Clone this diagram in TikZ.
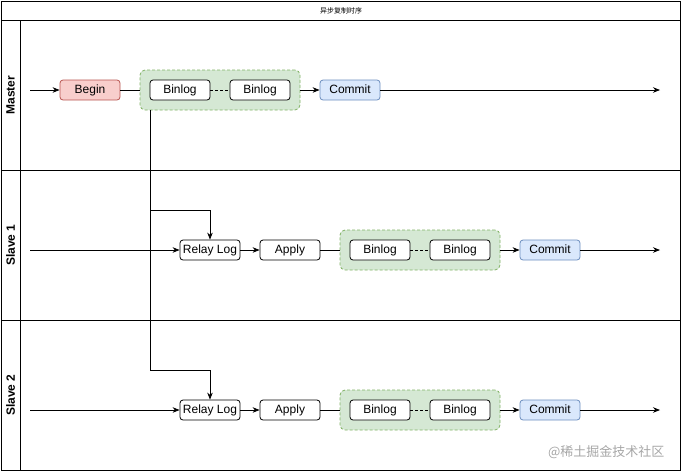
\documentclass[tikz,border=0pt]{standalone}
\usepackage{fontspec}
\setmainfont{Liberation Sans}
\newfontfamily\cjk{Noto Sans CJK SC}
\usetikzlibrary{arrows.meta}
\definecolor{redfill}{HTML}{F8CECC}
\definecolor{redline}{HTML}{B85450}
\definecolor{bluefill}{HTML}{DAE8FC}
\definecolor{blueline}{HTML}{6C8EBF}
\definecolor{greenfill}{HTML}{D5E8D4}
\definecolor{greenline}{HTML}{82B366}
\tikzset{
  box/.style={draw=black, fill=white, rounded corners=3pt, minimum width=60pt, minimum height=20pt, inner sep=0pt, text height=9pt, text depth=1.6pt, font=\fontsize{12}{12}\selectfont, line width=0.8pt},
  beginbox/.style={box, draw=redline, fill=redfill},
  commitbox/.style={box, draw=blueline, fill=bluefill},
  grp/.style={draw=greenline, fill=greenfill, dash pattern=on 3pt off 2pt, rounded corners=5pt, minimum width=160pt, minimum height=40pt, inner sep=0pt, line width=0.8pt},
  conn/.style={line width=0.8pt},
  dashconn/.style={conn, dash pattern=on 3pt off 2pt},
  arr/.style={conn, -{Stealth[length=7pt,width=5.5pt]}},
  lane/.style={font=\bfseries\fontsize{12}{12}\selectfont, rotate=90},
}
\begin{document}
\begin{tikzpicture}[x=1pt,y=-1pt]
\useasboundingbox (0,0) rectangle (682,472);
% frame
\draw[line width=1pt] (1,1) rectangle (680,470);
\draw[line width=1pt] (1,20) -- (680,20);
\draw[line width=1pt] (20,20) -- (20,470);
\draw[line width=1pt] (1,170) -- (680,170);
\draw[line width=1pt] (1,320) -- (680,320);
\node[font=\cjk\fontsize{7}{7}\selectfont] (title) at (341,10.5) {异步复制时序};
\node[lane] (lm) at (10.5,95) {Master};
\node[lane] (ls1) at (10.5,245) {Slave 1};
\node[lane] (ls2) at (10.5,395) {Slave 2};

% Master
\coordinate (mstart) at (30,90);
\coordinate (mend) at (660,90);
\node[beginbox] (mbegin) at (90,90) {Begin};
\node[grp] (mgrp) at (220,90) {};
\node[box] (mb1) at (180,90) {Binlog};
\node[box] (mb2) at (260,90) {Binlog};
\node[commitbox] (mcommit) at (350,90) {Commit};
\draw[arr] (mstart) -- (mbegin);
\draw[conn] (mbegin) -- (mgrp);
\draw[dashconn] (mb1) -- (mb2);
\draw[arr] (mgrp) -- (mcommit);
\draw[arr] (mcommit) -- (mend);

% Slave 1
\coordinate (astart) at (30,250);
\coordinate (aend) at (660,250);
\node[box] (arelay) at (210,250) {Relay Log};
\node[box] (aapply) at (290,250) {Apply};
\node[grp] (agrp) at (420,250) {};
\node[box] (ab1) at (380,250) {Binlog};
\node[box] (ab2) at (460,250) {Binlog};
\node[commitbox] (acommit) at (550,250) {Commit};
\draw[arr] (astart) -- (arelay);
\draw[arr] (arelay) -- (aapply);
\draw[conn] (aapply) -- (agrp);
\draw[dashconn] (ab1) -- (ab2);
\draw[arr] (agrp) -- (acommit);
\draw[arr] (acommit) -- (aend);

% Slave 2
\coordinate (bstart) at (30,410);
\coordinate (bend) at (660,410);
\node[box] (brelay) at (210,410) {Relay Log};
\node[box] (bapply) at (290,410) {Apply};
\node[grp] (bgrp) at (420,410) {};
\node[box] (bb1) at (380,410) {Binlog};
\node[box] (bb2) at (460,410) {Binlog};
\node[commitbox] (bcommit) at (550,410) {Commit};
\draw[arr] (bstart) -- (brelay);
\draw[arr] (brelay) -- (bapply);
\draw[conn] (bapply) -- (bgrp);
\draw[dashconn] (bb1) -- (bb2);
\draw[arr] (bgrp) -- (bcommit);
\draw[arr] (bcommit) -- (bend);

% replication connectors
\coordinate (j0) at (150,110);
\coordinate (j1) at (150,210);
\coordinate (j2) at (150,370);
\draw[conn] (j0) -- (j2);
\draw[arr] (j1) -| (arelay.north);
\draw[arr] (j2) -| (brelay.north);

% watermark
\node[font=\cjk\fontsize{13}{13}\selectfont, text=black!35, anchor=east] (wm) at (668,452) {@稀土掘金技术社区};
\end{tikzpicture}
\end{document}
